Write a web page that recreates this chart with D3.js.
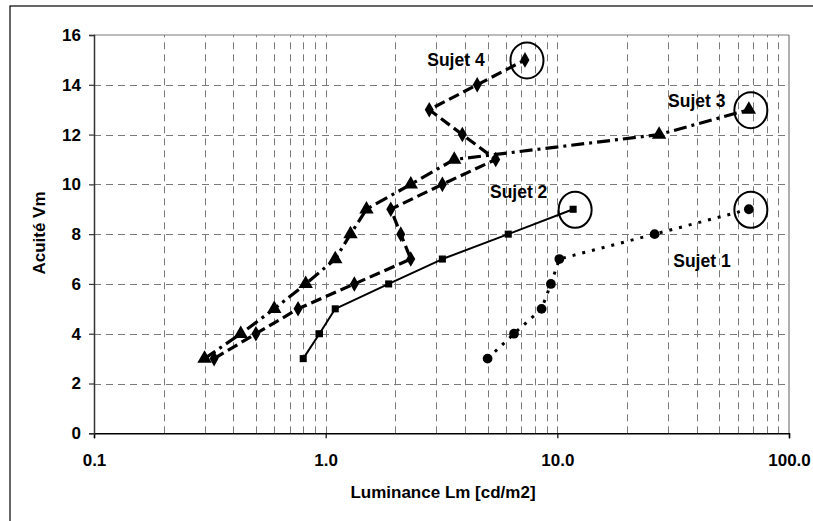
<!DOCTYPE html>
<html>
<head>
<meta charset="utf-8">
<script src="https://cdn.jsdelivr.net/npm/d3@7"></script>
<style>
  html, body { margin: 0; padding: 0; background: #fff; }
  svg { display: block; }
  text { font-family: "Liberation Sans", Arial, Helvetica, sans-serif; font-weight: bold; fill: #000; }
</style>
</head>
<body>
<svg id="chart" width="813" height="521"></svg>
<script>
// ---- Data ----
const sujet1Acuity = [3, 4, 5, 6, 7, 8, 9];
const sujet1Lum    = [5.0, 6.5, 8.55, 9.38, 10.2, 26.3, 67.1];

const sujet2Acuity = [3, 4, 5, 6, 7, 8, 9];
const sujet2Lum    = [0.80, 0.94, 1.10, 1.87, 3.19, 6.14, 11.7];

const sujet3Acuity = [3, 4, 5, 6, 7, 8, 9, 10, 11, 12, 13];
const sujet3Lum    = [0.30, 0.43, 0.60, 0.82, 1.10, 1.28, 1.50, 2.33, 3.59, 27.5, 67.1];

const sujet4Acuity = [3, 4, 5, 6, 7, 8, 9, 10, 11, 12, 13, 14, 15];
const sujet4Lum    = [0.33, 0.50, 0.76, 1.33, 2.33, 2.11, 1.91, 3.19, 5.42, 3.89, 2.80, 4.51, 7.25];

const seriesNames  = ["Sujet 1", "Sujet 2", "Sujet 3", "Sujet 4"];
const labelLum     = [42.1, 6.81, 40.0, 3.65];
const labelAcuity  = [6.94, 9.71, 13.37, 15.0];

const xTickLabels  = ["0.1", "1.0", "10.0", "100.0"];
const xTickValues  = [0.1, 1, 10, 100];
const yTickValues  = [0, 2, 4, 6, 8, 10, 12, 14, 16];

const xTitle = "Luminance Lm [cd/m2]";
const yTitle = "Acuité Vm";

// ---- Layout ----
const svg = d3.select("#chart");
const L = 94, R = 789, T = 35, B = 433.3;

const x = d3.scaleLog().domain([0.1, 100]).range([L, R]);
const y = d3.scaleLinear().domain([0, 16]).range([B, T]);

// outer frame (only left/top visible in reference)
svg.append("rect").attr("x", 10).attr("y", 6).attr("width", 840).attr("height", 560)
  .attr("fill", "none").attr("stroke", "#000").attr("stroke-width", 1.2);

// grid
const grid = svg.append("g");
const minor = x.ticks().filter(v => v > 0.1 + 1e-9 && v < 100 - 1e-9);
grid.selectAll("line.v").data(minor).join("line")
  .attr("x1", d => Math.round(x(d)) + 0.5).attr("x2", d => Math.round(x(d)) + 0.5)
  .attr("y1", B).attr("y2", T)
  .attr("stroke", "#7a7a7a").attr("stroke-width", 1).attr("stroke-dasharray", "7,5");
grid.selectAll("line.h").data(yTickValues.filter(v => v > 0 && v < 16)).join("line")
  .attr("x1", L).attr("x2", R)
  .attr("y1", d => Math.round(y(d)) + 0.5).attr("y2", d => Math.round(y(d)) + 0.5)
  .attr("stroke", "#7a7a7a").attr("stroke-width", 1).attr("stroke-dasharray", "7,5");

// plot border top/right
svg.append("line").attr("x1", L).attr("x2", R).attr("y1", T).attr("y2", T)
  .attr("stroke", "#7a7a7a").attr("stroke-width", 1.2);
svg.append("line").attr("x1", R).attr("x2", R).attr("y1", T).attr("y2", B)
  .attr("stroke", "#7a7a7a").attr("stroke-width", 1.2);

// axes
const xAxis = d3.axisBottom(x).tickValues(xTickValues)
  .tickFormat((d, i) => xTickLabels[i]).tickSize(5).tickPadding(16);
const gx = svg.append("g").attr("transform", `translate(0,${B})`).call(xAxis);
gx.select(".domain").attr("stroke", "#000").attr("stroke-width", 1.5);
gx.selectAll(".tick line").attr("stroke", "#000").attr("stroke-width", 1.2);
gx.selectAll("text").style("font-size", "17px").style("font-family", "Liberation Sans, Arial, sans-serif").style("font-weight", "bold");

const yAxis = d3.axisLeft(y).tickValues(yTickValues).tickSize(5).tickPadding(8);
const gy = svg.append("g").attr("transform", `translate(${L},0)`).call(yAxis);
gy.select(".domain").attr("stroke", "#333").attr("stroke-width", 1.5);
gy.selectAll(".tick line").attr("stroke", "#333").attr("stroke-width", 1.2);
gy.selectAll("text").style("font-size", "17px").style("font-family", "Liberation Sans, Arial, sans-serif").style("font-weight", "bold");

// axis titles
svg.append("text").attr("x", 443).attr("y", 492).attr("dy", "0.35em")
  .attr("text-anchor", "middle").style("font-size", "17px").text(xTitle);
svg.append("text").attr("transform", "translate(39,233) rotate(-90)").attr("dy", "0.35em")
  .attr("text-anchor", "middle").style("font-size", "17px").text(yTitle);

// series
const series = [
  { lum: sujet1Lum, acu: sujet1Acuity, dash: "3,7", width: 3, marker: "circle" },
  { lum: sujet2Lum, acu: sujet2Acuity, dash: null, width: 2, marker: "square" },
  { lum: sujet3Lum, acu: sujet3Acuity, dash: "13,5,3,5", width: 3.2, marker: "triangle" },
  { lum: sujet4Lum, acu: sujet4Acuity, dash: "11,5", width: 3.2, marker: "diamond" }
];

const line = d3.line().x(d => x(d[0])).y(d => y(d[1]));
const symbolType = { circle: d3.symbolCircle, square: d3.symbolSquare, triangle: d3.symbolTriangle, diamond: d3.symbolDiamond };
const symbolSize = { circle: 75, square: 50, triangle: 90, diamond: 70 };

series.forEach((s, si) => {
  const pts = s.lum.map((v, i) => [v, s.acu[i]]);
  const p = svg.append("path").datum(pts).attr("d", line)
    .attr("fill", "none").attr("stroke", "#000").attr("stroke-width", s.width)
    .attr("stroke-linejoin", "round");
  if (s.dash) p.attr("stroke-dasharray", s.dash);
  svg.append("g").selectAll("path").data(pts).join("path")
    .attr("transform", d => `translate(${x(d[0])},${y(d[1])})`)
    .attr("d", d3.symbol().type(symbolType[s.marker]).size(symbolSize[s.marker]))
    .attr("fill", "#000");
  // highlight ellipse around final point
  const last = pts[pts.length - 1];
  svg.append("ellipse").attr("cx", x(last[0]) + 2).attr("cy", y(last[1]) + 0.5)
    .attr("rx", 16.5).attr("ry", 18).attr("fill", "none")
    .attr("stroke", "#000").attr("stroke-width", 2);
  // label
  svg.append("text").attr("x", x(labelLum[si])).attr("y", y(labelAcuity[si])).attr("dy", "0.35em")
    .attr("text-anchor", "middle").style("font-size", "17.5px").text(seriesNames[si]);
});
</script>
</body>
</html>
